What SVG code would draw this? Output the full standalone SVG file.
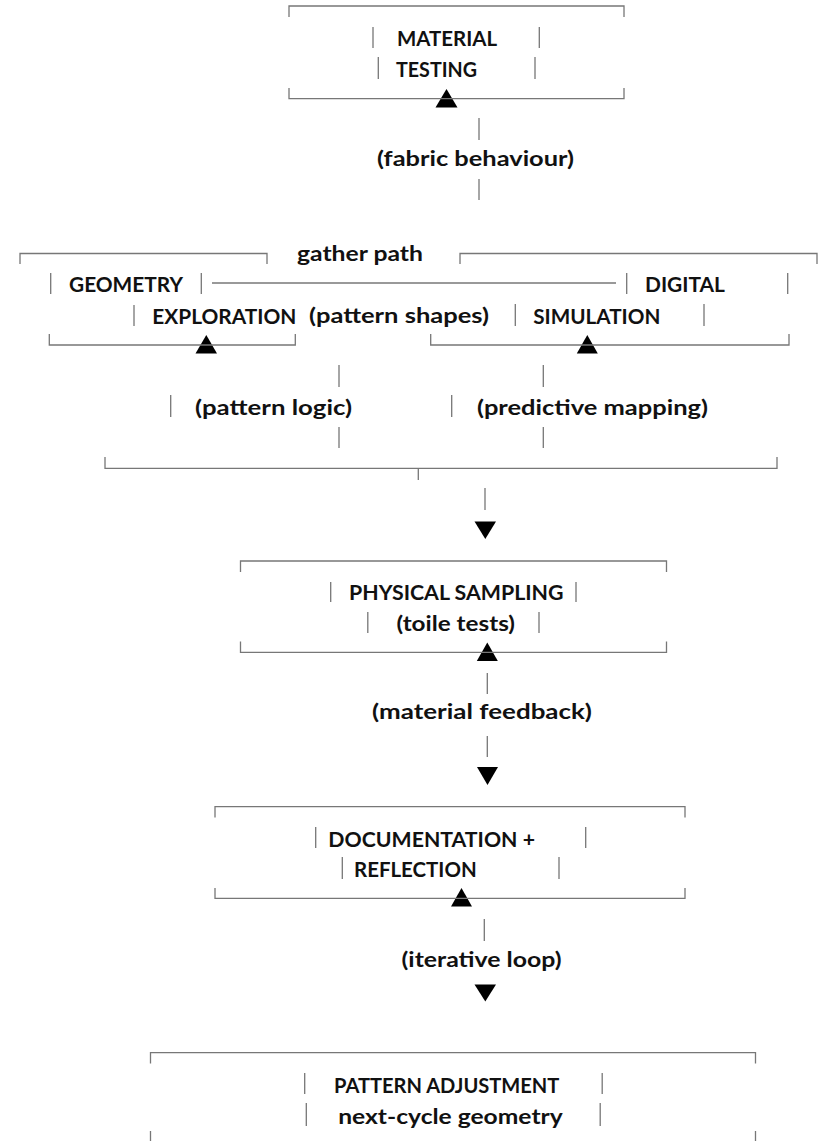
<svg xmlns="http://www.w3.org/2000/svg" width="818" height="1141" viewBox="0 0 818 1141">
<style>
.frame{fill:none;stroke:#777;stroke-width:1.3}
.bar{stroke:#777;stroke-width:1.3}
.t{font-family:Lato,"Liberation Sans",sans-serif;font-weight:700;font-size:21px;fill:#111}
.arrow{fill:#000}
</style>
<rect width="818" height="1141" fill="#fff"/>
<g id="connectors">
  <path class="bar" d="M479,118V140M479,179V200"/>
  <text class="t" x="377" y="166" textLength="197" lengthAdjust="spacingAndGlyphs">(fabric behaviour)</text>
  <text class="t" x="297" y="261" textLength="126" lengthAdjust="spacingAndGlyphs">gather path</text>
  <path class="bar" d="M212,283H616"/>
  <text class="t" x="309" y="322.5" textLength="180" lengthAdjust="spacingAndGlyphs">(pattern shapes)</text>
  <path class="bar" d="M339,365V387M339,427V448M170.7,395V417"/>
  <text class="t" x="195" y="415" textLength="157" lengthAdjust="spacingAndGlyphs">(pattern logic)</text>
  <path class="bar" d="M543.3,365V387M543.3,427V448M451.7,395V417"/>
  <text class="t" x="477" y="415" textLength="231" lengthAdjust="spacingAndGlyphs">(predictive mapping)</text>
  <path class="frame" d="M105,457V468.3H777V457M418.3,468.3V480"/>
  <path class="bar" d="M485,488V510"/>
  <polygon class="arrow" points="474.5,521.5 496,521.5 485.3,539"/>
  <path class="bar" d="M487.3,673V694M487.3,736V757"/>
  <text class="t" x="372" y="719" textLength="220" lengthAdjust="spacingAndGlyphs">(material feedback)</text>
  <polygon class="arrow" points="477,767 498,767 487.5,785"/>
  <path class="bar" d="M484.3,919V941"/>
  <text class="t" x="401.5" y="967" textLength="160" lengthAdjust="spacingAndGlyphs">(iterative loop)</text>
  <polygon class="arrow" points="474.5,984.5 496,984.5 485.3,1001.5"/>
  <polygon class="arrow" points="435.5,107.5 446.5,89 457.5,107.5"/>
  <polygon class="arrow" points="195.5,353.5 206.3,335 217,353.5"/>
  <polygon class="arrow" points="576.8,353.5 587.3,335 597.8,353.5"/>
  <polygon class="arrow" points="476.8,661 487.3,642.5 497.8,661"/>
  <polygon class="arrow" points="451,906.5 461.5,888 472,906.5"/>
</g>
<g id="node-material-testing">
  <path class="frame" d="M289,17V6H624V17M289,88V98.7H624V88"/>
  <path class="bar" d="M373,27V48M539.3,27V48M378.3,57V79M535,57V79"/>
  <text class="t" x="397" y="46" textLength="100" lengthAdjust="spacingAndGlyphs">MATERIAL</text>
  <text class="t" x="396" y="77" textLength="81" lengthAdjust="spacingAndGlyphs">TESTING</text>
</g>
<g id="node-geometry-exploration">
  <path class="frame" d="M20,264V253.5H267V264M49.3,334V345H295.3V334"/>
  <path class="bar" d="M50.7,273V294M201.3,273V294M134,305V326"/>
  <text class="t" x="69" y="292" textLength="114" lengthAdjust="spacingAndGlyphs">GEOMETRY</text>
  <text class="t" x="152.3" y="323.5" textLength="144" lengthAdjust="spacingAndGlyphs">EXPLORATION</text>
</g>
<g id="node-digital-simulation">
  <path class="frame" d="M460,264V253.5H817V264M430.7,334V345H789V334"/>
  <path class="bar" d="M626.7,273V294M787.7,273V294M515.3,304V326M704,304V326"/>
  <text class="t" x="645" y="292" textLength="80" lengthAdjust="spacingAndGlyphs">DIGITAL</text>
  <text class="t" x="533.3" y="323.5" textLength="127" lengthAdjust="spacingAndGlyphs">SIMULATION</text>
</g>
<g id="node-physical-sampling">
  <path class="frame" d="M240.5,572V561H666.5V572M240.5,641.5V652.3H666.5V641.5"/>
  <path class="bar" d="M330.7,582V602M576,582V602M367.8,612V633M539,612V633"/>
  <text class="t" x="349" y="599.5" textLength="214.5" lengthAdjust="spacingAndGlyphs">PHYSICAL SAMPLING</text>
  <text class="t" x="396.5" y="631" textLength="118.5" lengthAdjust="spacingAndGlyphs">(toile tests)</text>
</g>
<g id="node-documentation-reflection">
  <path class="frame" d="M215,817.5V806.7H685V817.5M215,888V898.3H685V888"/>
  <path class="bar" d="M315.7,827V848M585.7,827V848M342.3,857V879M559,857V879"/>
  <text class="t" x="328.3" y="846.7" textLength="206.7" lengthAdjust="spacingAndGlyphs">DOCUMENTATION +</text>
  <text class="t" x="354" y="876.7" textLength="122.7" lengthAdjust="spacingAndGlyphs">REFLECTION</text>
</g>
<g id="node-pattern-adjustment">
  <path class="frame" d="M150.5,1063.5V1052.7H755.5V1063.5M150.5,1131V1142.3H755.5V1131"/>
  <path class="bar" d="M304.7,1073V1094M602.2,1073V1094M306.3,1103V1126M600.2,1103V1126"/>
  <text class="t" x="334" y="1092.7" textLength="225.4" lengthAdjust="spacingAndGlyphs">PATTERN ADJUSTMENT</text>
  <text class="t" x="338.2" y="1123.5" textLength="224.5" lengthAdjust="spacingAndGlyphs">next-cycle geometry</text>
</g>
</svg>
